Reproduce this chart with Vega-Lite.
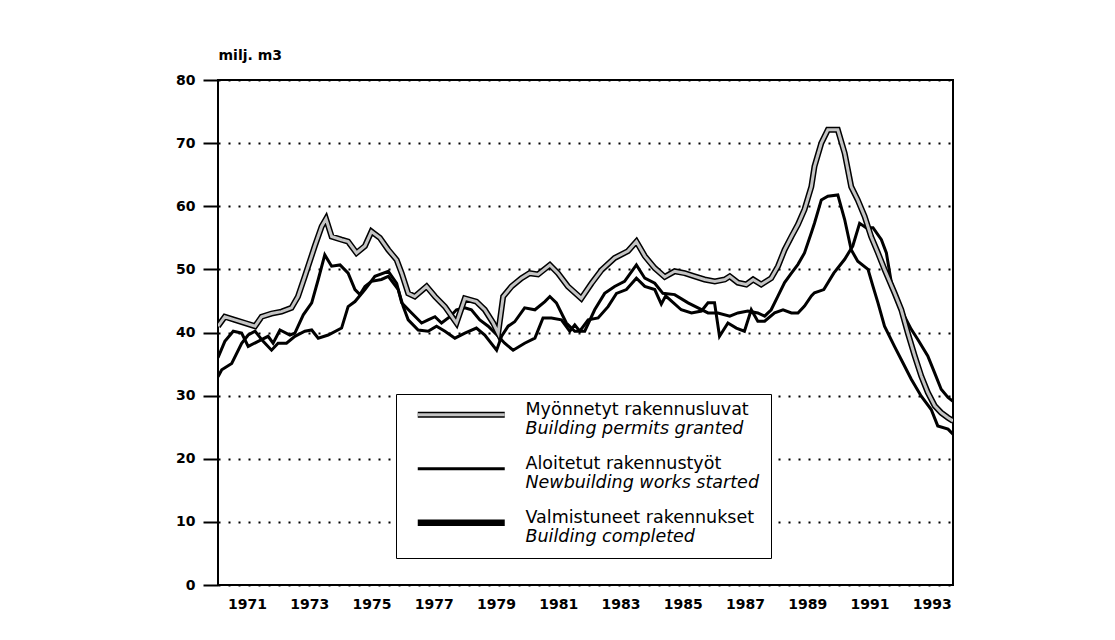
{
"$schema": "https://vega.github.io/schema/vega-lite/v6.json",
"autosize": "none",
"width": 735,
"height": 505,
"padding": {"left": 218, "top": 80, "right": 162, "bottom": 55},
"background": "white",
"config": {
  "view": {"stroke": "black", "strokeWidth": 2},
  "font": "DejaVu Sans",
  "axis": {"labelFont": "DejaVu Sans", "labelFontWeight": "bold", "labelFontSize": 14, "labelColor": "black", "titleColor": "black"},
  "legend": {"orient": "none", "legendX": 178, "legendY": 314, "padding": 12, "symbolType": "M-4.35,0H4.35", "symbolSize": 400, "symbolOffset": 44.5, "labelOffset": 55.5, "rowPadding": 16, "labelFont": "DejaVu Sans", "labelFontSize": 17.5, "labelBaseline": "alphabetic", "labelColor": "black", "labelLimit": 500, "title": null}
},
"datasets": {
  "names": [
    {"s": "P", "fi": "Myönnetyt rakennusluvat", "en": "Building permits granted"},
    {"s": "S", "fi": "Aloitetut rakennustyöt", "en": "Newbuilding works started"},
    {"s": "C", "fi": "Valmistuneet rakennukset", "en": "Building completed"}
  ],
  "obs": [
{"s":"P","t":1970.07,"v":41},{"s":"P","t":1970.29,"v":42.5},{"s":"P","t":1970.61,"v":42},{"s":"P","t":1970.94,"v":41.5},{"s":"P","t":1971.26,"v":41},{"s":"P","t":1971.47,"v":42.5},{"s":"P","t":1971.79,"v":43},{"s":"P","t":1972.11,"v":43.3},{"s":"P","t":1972.43,"v":43.9},{"s":"P","t":1972.64,"v":45.7},{"s":"P","t":1972.86,"v":48.9},{"s":"P","t":1973.18,"v":53.7},{"s":"P","t":1973.4,"v":56.8},{"s":"P","t":1973.54,"v":58},{"s":"P","t":1973.72,"v":55.2},{"s":"P","t":1974.04,"v":54.7},{"s":"P","t":1974.25,"v":54.4},{"s":"P","t":1974.52,"v":52.6},{"s":"P","t":1974.79,"v":53.7},{"s":"P","t":1975.0,"v":56},{"s":"P","t":1975.27,"v":55},{"s":"P","t":1975.54,"v":53.1},{"s":"P","t":1975.81,"v":51.5},{"s":"P","t":1975.97,"v":49.4},{"s":"P","t":1976.18,"v":46.2},{"s":"P","t":1976.39,"v":45.7},{"s":"P","t":1976.77,"v":47.3},{"s":"P","t":1977.04,"v":45.7},{"s":"P","t":1977.36,"v":44.1},{"s":"P","t":1977.73,"v":41.5},{"s":"P","t":1978.0,"v":45.4},{"s":"P","t":1978.37,"v":44.9},{"s":"P","t":1978.64,"v":43.6},{"s":"P","t":1978.91,"v":41.5},{"s":"P","t":1979.07,"v":39.9},{"s":"P","t":1979.23,"v":45.7},{"s":"P","t":1979.5,"v":47.3},{"s":"P","t":1979.82,"v":48.6},{"s":"P","t":1980.08,"v":49.4},{"s":"P","t":1980.35,"v":49.2},{"s":"P","t":1980.73,"v":50.7},{"s":"P","t":1980.99,"v":49.4},{"s":"P","t":1981.31,"v":47.3},{"s":"P","t":1981.74,"v":45.4},{"s":"P","t":1982.07,"v":47.8},{"s":"P","t":1982.39,"v":49.9},{"s":"P","t":1982.81,"v":51.8},{"s":"P","t":1983.24,"v":52.9},{"s":"P","t":1983.51,"v":54.4},{"s":"P","t":1983.78,"v":52.1},{"s":"P","t":1984.1,"v":50.2},{"s":"P","t":1984.42,"v":48.8},{"s":"P","t":1984.74,"v":49.7},{"s":"P","t":1985.06,"v":49.4},{"s":"P","t":1985.38,"v":48.9},{"s":"P","t":1985.7,"v":48.4},{"s":"P","t":1986.03,"v":48.1},{"s":"P","t":1986.35,"v":48.4},{"s":"P","t":1986.51,"v":48.9},{"s":"P","t":1986.77,"v":47.9},{"s":"P","t":1987.04,"v":47.6},{"s":"P","t":1987.26,"v":48.4},{"s":"P","t":1987.52,"v":47.6},{"s":"P","t":1987.84,"v":48.6},{"s":"P","t":1988.06,"v":50.5},{"s":"P","t":1988.27,"v":53.1},{"s":"P","t":1988.49,"v":55.2},{"s":"P","t":1988.7,"v":57.1},{"s":"P","t":1988.91,"v":59.5},{"s":"P","t":1989.13,"v":63.1},{"s":"P","t":1989.23,"v":66.3},{"s":"P","t":1989.45,"v":70},{"s":"P","t":1989.66,"v":72.1},{"s":"P","t":1989.98,"v":72.1},{"s":"P","t":1990.2,"v":68.4},{"s":"P","t":1990.41,"v":63.1},{"s":"P","t":1990.62,"v":61},{"s":"P","t":1990.84,"v":58.4},{"s":"P","t":1991.05,"v":55.2},{"s":"P","t":1991.27,"v":52.6},{"s":"P","t":1991.48,"v":50},{"s":"P","t":1991.8,"v":46.3},{"s":"P","t":1992.02,"v":43.6},{"s":"P","t":1992.23,"v":39.9},{"s":"P","t":1992.45,"v":36.3},{"s":"P","t":1992.66,"v":33.1},{"s":"P","t":1992.87,"v":30.5},{"s":"P","t":1993.09,"v":28.4},{"s":"P","t":1993.3,"v":27.3},{"s":"P","t":1993.52,"v":26.5},{"s":"P","t":1993.68,"v":26},
{"s":"S","t":1970.07,"v":36},{"s":"S","t":1970.29,"v":38.6},{"s":"S","t":1970.56,"v":40.2},{"s":"S","t":1970.83,"v":39.9},{"s":"S","t":1971.04,"v":37.8},{"s":"S","t":1971.36,"v":38.6},{"s":"S","t":1971.68,"v":39.4},{"s":"S","t":1971.84,"v":38.3},{"s":"S","t":1972.06,"v":40.4},{"s":"S","t":1972.38,"v":39.6},{"s":"S","t":1972.54,"v":39.9},{"s":"S","t":1972.81,"v":42.8},{"s":"S","t":1973.08,"v":44.7},{"s":"S","t":1973.29,"v":48.4},{"s":"S","t":1973.5,"v":52.3},{"s":"S","t":1973.72,"v":50.5},{"s":"S","t":1973.99,"v":50.7},{"s":"S","t":1974.25,"v":49.4},{"s":"S","t":1974.47,"v":46.8},{"s":"S","t":1974.63,"v":46},{"s":"S","t":1974.79,"v":47.3},{"s":"S","t":1975.0,"v":48.1},{"s":"S","t":1975.32,"v":48.4},{"s":"S","t":1975.54,"v":48.9},{"s":"S","t":1975.86,"v":46.8},{"s":"S","t":1976.02,"v":44.1},{"s":"S","t":1976.18,"v":42},{"s":"S","t":1976.5,"v":40.4},{"s":"S","t":1976.82,"v":40.2},{"s":"S","t":1977.09,"v":41},{"s":"S","t":1977.36,"v":40.2},{"s":"S","t":1977.68,"v":39.1},{"s":"S","t":1978.0,"v":39.9},{"s":"S","t":1978.37,"v":40.7},{"s":"S","t":1978.64,"v":39.6},{"s":"S","t":1979.02,"v":37.2},{"s":"S","t":1979.18,"v":39.4},{"s":"S","t":1979.39,"v":41},{"s":"S","t":1979.6,"v":41.7},{"s":"S","t":1979.92,"v":43.9},{"s":"S","t":1980.25,"v":43.6},{"s":"S","t":1980.57,"v":44.9},{"s":"S","t":1980.73,"v":45.7},{"s":"S","t":1980.94,"v":44.7},{"s":"S","t":1981.26,"v":41.5},{"s":"S","t":1981.53,"v":40.2},{"s":"S","t":1981.85,"v":40.2},{"s":"S","t":1982.17,"v":43.6},{"s":"S","t":1982.49,"v":46.2},{"s":"S","t":1982.81,"v":47.3},{"s":"S","t":1983.13,"v":48.1},{"s":"S","t":1983.51,"v":50.7},{"s":"S","t":1983.78,"v":48.6},{"s":"S","t":1984.1,"v":47.8},{"s":"S","t":1984.36,"v":46.2},{"s":"S","t":1984.74,"v":46},{"s":"S","t":1985.17,"v":44.7},{"s":"S","t":1985.49,"v":43.9},{"s":"S","t":1985.81,"v":43.1},{"s":"S","t":1986.13,"v":43.1},{"s":"S","t":1986.51,"v":42.6},{"s":"S","t":1986.77,"v":43.1},{"s":"S","t":1987.09,"v":43.4},{"s":"S","t":1987.41,"v":43.1},{"s":"S","t":1987.63,"v":42.6},{"s":"S","t":1987.84,"v":43.6},{"s":"S","t":1988.06,"v":45.8},{"s":"S","t":1988.27,"v":47.9},{"s":"S","t":1988.49,"v":49.4},{"s":"S","t":1988.7,"v":50.8},{"s":"S","t":1988.91,"v":52.6},{"s":"S","t":1989.13,"v":55.8},{"s":"S","t":1989.23,"v":57.3},{"s":"S","t":1989.45,"v":61},{"s":"S","t":1989.66,"v":61.6},{"s":"S","t":1989.98,"v":61.8},{"s":"S","t":1990.2,"v":57.9},{"s":"S","t":1990.41,"v":53.1},{"s":"S","t":1990.62,"v":51.3},{"s":"S","t":1990.95,"v":50},{"s":"S","t":1991.11,"v":47.3},{"s":"S","t":1991.27,"v":44.7},{"s":"S","t":1991.48,"v":41},{"s":"S","t":1991.8,"v":37.8},{"s":"S","t":1992.07,"v":35.2},{"s":"S","t":1992.34,"v":32.6},{"s":"S","t":1992.66,"v":29.9},{"s":"S","t":1992.98,"v":27.8},{"s":"S","t":1993.19,"v":25.2},{"s":"S","t":1993.52,"v":24.7},{"s":"S","t":1993.68,"v":23.9},
{"s":"C","t":1970.07,"v":33},{"s":"C","t":1970.19,"v":34.1},{"s":"C","t":1970.51,"v":35.1},{"s":"C","t":1970.83,"v":38.3},{"s":"C","t":1971.04,"v":39.6},{"s":"C","t":1971.26,"v":40.2},{"s":"C","t":1971.52,"v":38.6},{"s":"C","t":1971.79,"v":37.2},{"s":"C","t":1972.0,"v":38.3},{"s":"C","t":1972.27,"v":38.3},{"s":"C","t":1972.54,"v":39.4},{"s":"C","t":1972.86,"v":40.2},{"s":"C","t":1973.08,"v":40.4},{"s":"C","t":1973.29,"v":39.1},{"s":"C","t":1973.61,"v":39.6},{"s":"C","t":1974.04,"v":40.7},{"s":"C","t":1974.25,"v":44.1},{"s":"C","t":1974.47,"v":44.9},{"s":"C","t":1974.79,"v":46.8},{"s":"C","t":1975.11,"v":48.9},{"s":"C","t":1975.54,"v":49.7},{"s":"C","t":1975.81,"v":47.8},{"s":"C","t":1975.97,"v":44.7},{"s":"C","t":1976.29,"v":43.1},{"s":"C","t":1976.61,"v":41.5},{"s":"C","t":1976.82,"v":42},{"s":"C","t":1977.04,"v":42.5},{"s":"C","t":1977.25,"v":41.5},{"s":"C","t":1977.52,"v":42.5},{"s":"C","t":1977.73,"v":43.6},{"s":"C","t":1978.0,"v":43.9},{"s":"C","t":1978.21,"v":43.6},{"s":"C","t":1978.48,"v":42},{"s":"C","t":1978.75,"v":41},{"s":"C","t":1979.07,"v":39.4},{"s":"C","t":1979.28,"v":38.3},{"s":"C","t":1979.55,"v":37.2},{"s":"C","t":1979.92,"v":38.3},{"s":"C","t":1980.25,"v":39.1},{"s":"C","t":1980.51,"v":42.3},{"s":"C","t":1980.78,"v":42.3},{"s":"C","t":1981.1,"v":42},{"s":"C","t":1981.37,"v":40.2},{"s":"C","t":1981.53,"v":41.2},{"s":"C","t":1981.69,"v":40.2},{"s":"C","t":1981.96,"v":42},{"s":"C","t":1982.28,"v":42.3},{"s":"C","t":1982.6,"v":44.1},{"s":"C","t":1982.87,"v":46.2},{"s":"C","t":1983.19,"v":46.8},{"s":"C","t":1983.51,"v":48.6},{"s":"C","t":1983.78,"v":47.3},{"s":"C","t":1984.1,"v":46.8},{"s":"C","t":1984.31,"v":44.5},{"s":"C","t":1984.45,"v":45.8},{"s":"C","t":1984.63,"v":45},{"s":"C","t":1984.95,"v":43.6},{"s":"C","t":1985.28,"v":43.1},{"s":"C","t":1985.6,"v":43.4},{"s":"C","t":1985.81,"v":44.7},{"s":"C","t":1986.02,"v":44.7},{"s":"C","t":1986.18,"v":39.4},{"s":"C","t":1986.45,"v":41.5},{"s":"C","t":1986.72,"v":40.7},{"s":"C","t":1986.98,"v":40.2},{"s":"C","t":1987.2,"v":43.6},{"s":"C","t":1987.41,"v":41.8},{"s":"C","t":1987.63,"v":41.8},{"s":"C","t":1987.95,"v":43.1},{"s":"C","t":1988.22,"v":43.6},{"s":"C","t":1988.49,"v":43.1},{"s":"C","t":1988.7,"v":43.1},{"s":"C","t":1988.91,"v":44.2},{"s":"C","t":1989.13,"v":45.8},{"s":"C","t":1989.23,"v":46.3},{"s":"C","t":1989.53,"v":46.8},{"s":"C","t":1989.85,"v":49.4},{"s":"C","t":1990.2,"v":51.6},{"s":"C","t":1990.46,"v":53.7},{"s":"C","t":1990.68,"v":57.3},{"s":"C","t":1990.89,"v":56.6},{"s":"C","t":1991.11,"v":56.6},{"s":"C","t":1991.38,"v":54.7},{"s":"C","t":1991.54,"v":52.6},{"s":"C","t":1991.7,"v":47.9},{"s":"C","t":1991.91,"v":45.2},{"s":"C","t":1992.12,"v":42.6},{"s":"C","t":1992.34,"v":40.5},{"s":"C","t":1992.55,"v":38.9},{"s":"C","t":1992.87,"v":36.3},{"s":"C","t":1993.09,"v":33.6},{"s":"C","t":1993.3,"v":31},{"s":"C","t":1993.52,"v":29.7},{"s":"C","t":1993.68,"v":29.1}
  ]
},
"data": {"name": "obs"},
"transform": [{"lookup": "s", "from": {"data": {"name": "names"}, "key": "s", "fields": ["fi", "en"]}}],
"encoding": {
  "x": {"field": "t", "type": "quantitative", "scale": {"domain": [1970.07, 1993.68], "nice": false, "zero": false},
        "axis": {"values": [1971,1973,1975,1977,1979,1981,1983,1985,1987,1989,1991,1993], "format": "d", "ticks": false, "domain": false, "grid": false, "labelPadding": 12, "title": null, "labelFlush": false, "labelOverlap": false}},
  "y": {"field": "v", "type": "quantitative", "scale": {"domain": [0, 80], "nice": false},
        "axis": {"values": [0,10,20,30,40,50,60,70,80], "tickSize": 15, "tickWidth": 2, "tickColor": "black", "labelPadding": 8, "grid": true, "gridColor": "black", "gridDash": [2, 8], "gridWidth": 2, "gridOpacity": 1, "domain": false,
                 "title": "milj. m3", "titleAngle": 0, "titleAlign": "left", "titleBaseline": "middle", "titleX": 0, "titleY": -25, "titleFontWeight": "bold", "titleFontSize": 14, "titleFont": "DejaVu Sans"}}
},
"layer": [
  {"transform": [{"filter": "datum.s === 'P'"}],
   "mark": {"type": "line", "color": "black", "strokeWidth": 6, "clip": true},
   "encoding": {"order": {"field": "t", "type": "quantitative"}}},
  {"transform": [{"filter": "datum.s !== 'P'"}],
   "mark": {"type": "line", "clip": true},
   "encoding": {
     "order": {"field": "t", "type": "quantitative"},
     "color": {"field": "en", "type": "nominal", "scale": {"domain": ["Building permits granted", "Newbuilding works started", "Building completed"], "range": ["black", "black", "black"]},
               "legend": {"labelExpr": "[' ', datum.label]", "labelFontStyle": "italic", "strokeColor": "black", "fillColor": "white",
                          "symbolStrokeWidth": {"expr": "datum.value === 'Building permits granted' ? 6 : datum.value === 'Building completed' ? 6.5 : 3"}}},
     "strokeWidth": {"field": "s", "type": "nominal", "scale": {"domain": ["P", "S", "C"], "range": [3, 3, 6.5]}, "legend": null},
     "opacity": {"field": "fi", "type": "nominal", "scale": {"domain": ["Myönnetyt rakennusluvat", "Aloitetut rakennustyöt", "Valmistuneet rakennukset"], "range": [1, 1, 1]},
               "legend": {"labelExpr": "[datum.label, ' ']",
                          "symbolStrokeWidth": {"expr": "datum.value === 'Valmistuneet rakennukset' ? 6.5 : 3"},
                          "symbolStrokeColor": {"expr": "datum.value === 'Myönnetyt rakennusluvat' ? '#c4c4c4' : 'transparent'"}}}
   }},
  {"transform": [{"filter": "datum.s === 'P'"}],
   "mark": {"type": "line", "clip": true, "color": "#c4c4c4", "strokeWidth": 3},
   "encoding": {
     "order": {"field": "t", "type": "quantitative"}
   }}
]
}
